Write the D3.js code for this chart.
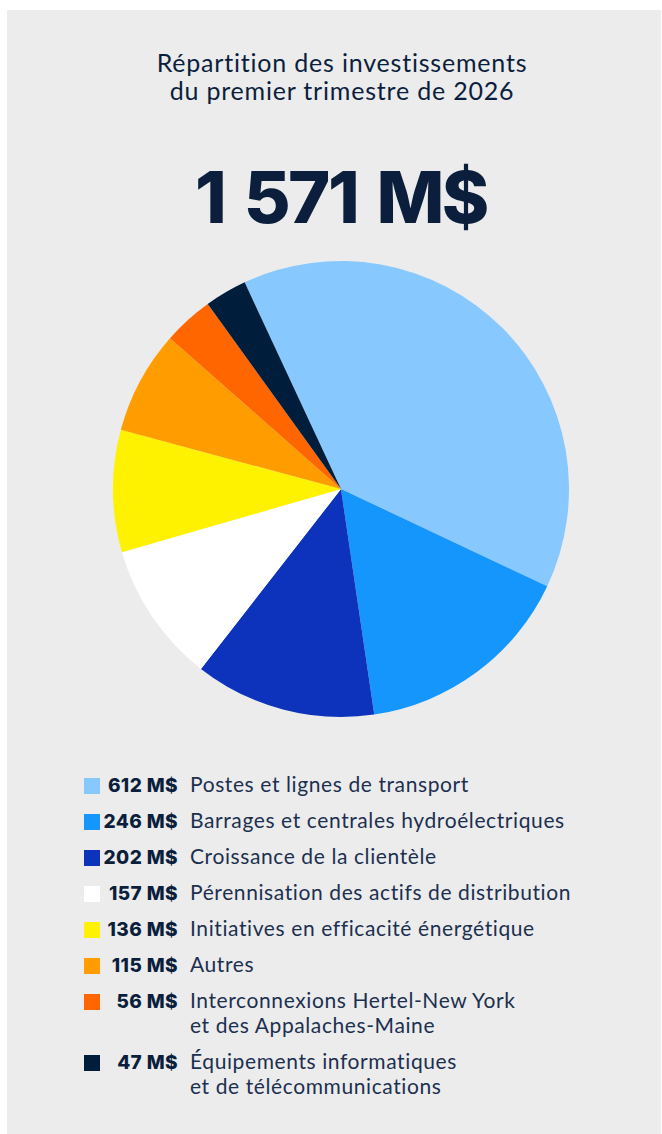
<!DOCTYPE html>
<html>
<head>
<meta charset="utf-8">
<script src="https://cdn.jsdelivr.net/npm/d3@7"></script>
<style>
  body { margin: 0; background: #ffffff; }
  svg { display: block; }
</style>
</head>
<body>
<script>
// Chart data
var categories = [
  "Postes et lignes de transport",
  "Barrages et centrales hydroélectriques",
  "Croissance de la clientèle",
  "Pérennisation des actifs de distribution",
  "Initiatives en efficacité énergétique",
  "Autres",
  "Interconnexions Hertel-New York\net des Appalaches-Maine",
  "Équipements informatiques\net de télécommunications"
];
var values = [612, 246, 202, 157, 136, 115, 56, 47];
var colors = ["#87c8fe", "#1496fd", "#0d33bd", "#ffffff", "#fff200", "#ff9d00", "#ff6600", "#001e3c"];
var titleLines = ["Répartition des investissements", "du premier trimestre de 2026"];
var totalLabel = "1 571 M$";

var width = 662, height = 1134;
var navy = "#0b1f3d";

var svg = d3.select("body")
  .append("svg")
  .attr("width", width)
  .attr("height", height);

// grey panel
svg.append("rect")
  .attr("x", 7)
  .attr("y", 10)
  .attr("width", 654)
  .attr("height", 1124)
  .attr("fill", "#ececec");

///////////////////////
// Title
svg.append("g")
  .selectAll("text")
  .data(titleLines)
  .enter().append("text")
  .attr("x", 342)
  .attr("y", function(d, i) { return 72 + i * 28; })
  .attr("text-anchor", "middle")
  .attr("font-family", "Lato")
  .attr("font-size", "25px")
  .attr("letter-spacing", "0.8px")
  .attr("fill", navy)
  .text(function(d) { return d; });

svg.append("text")
  .attr("x", 341)
  .attr("y", 223)
  .attr("text-anchor", "middle")
  .attr("font-family", "Inter")
  .attr("font-weight", 800)
  .attr("font-size", "72px")
  .attr("letter-spacing", "-2.5px")
  .attr("word-spacing", "6px")
  .attr("fill", navy)
  .text(totalLabel);

///////////////////////
// Pie
var radius = 228;
var pie = d3.pie()
  .sort(null)
  .startAngle(-25 * Math.PI / 180)
  .endAngle(335 * Math.PI / 180);

var arc = d3.arc()
  .innerRadius(0)
  .outerRadius(radius);

svg.append("g")
  .attr("transform", "translate(341,489)")
  .selectAll("path")
  .data(pie(values))
  .enter().append("path")
  .attr("d", arc)
  .attr("fill", function(d, i) { return colors[i]; });

///////////////////////
// Legend
var rowY = [792, 828, 864, 900, 936, 972, 1008, 1069];

var legend = svg.append("g")
  .selectAll("g")
  .data(values)
  .enter().append("g")
  .attr("transform", function(d, i) { return "translate(0," + rowY[i] + ")"; });

legend.append("rect")
  .attr("x", 84)
  .attr("y", -14)
  .attr("width", 16)
  .attr("height", 16)
  .attr("fill", function(d, i) { return colors[i]; });

legend.append("text")
  .attr("x", 178)
  .attr("text-anchor", "end")
  .attr("font-family", "Inter")
  .attr("font-weight", 800)
  .attr("font-size", "19px")
  .attr("letter-spacing", "0.4px")
  .attr("fill", navy)
  .text(function(d) { return d + " M$"; });

legend.append("text")
  .attr("x", 190)
  .attr("font-family", "Lato")
  .attr("font-size", "21px")
  .attr("letter-spacing", "0.6px")
  .attr("fill", "#1c3050")
  .selectAll("tspan")
  .data(function(d, i) { return categories[i].split("\n"); })
  .enter().append("tspan")
  .attr("x", 190)
  .attr("dy", function(d, j) { return j ? 25 : 0; })
  .text(function(d) { return d; });
</script>
</body>
</html>
